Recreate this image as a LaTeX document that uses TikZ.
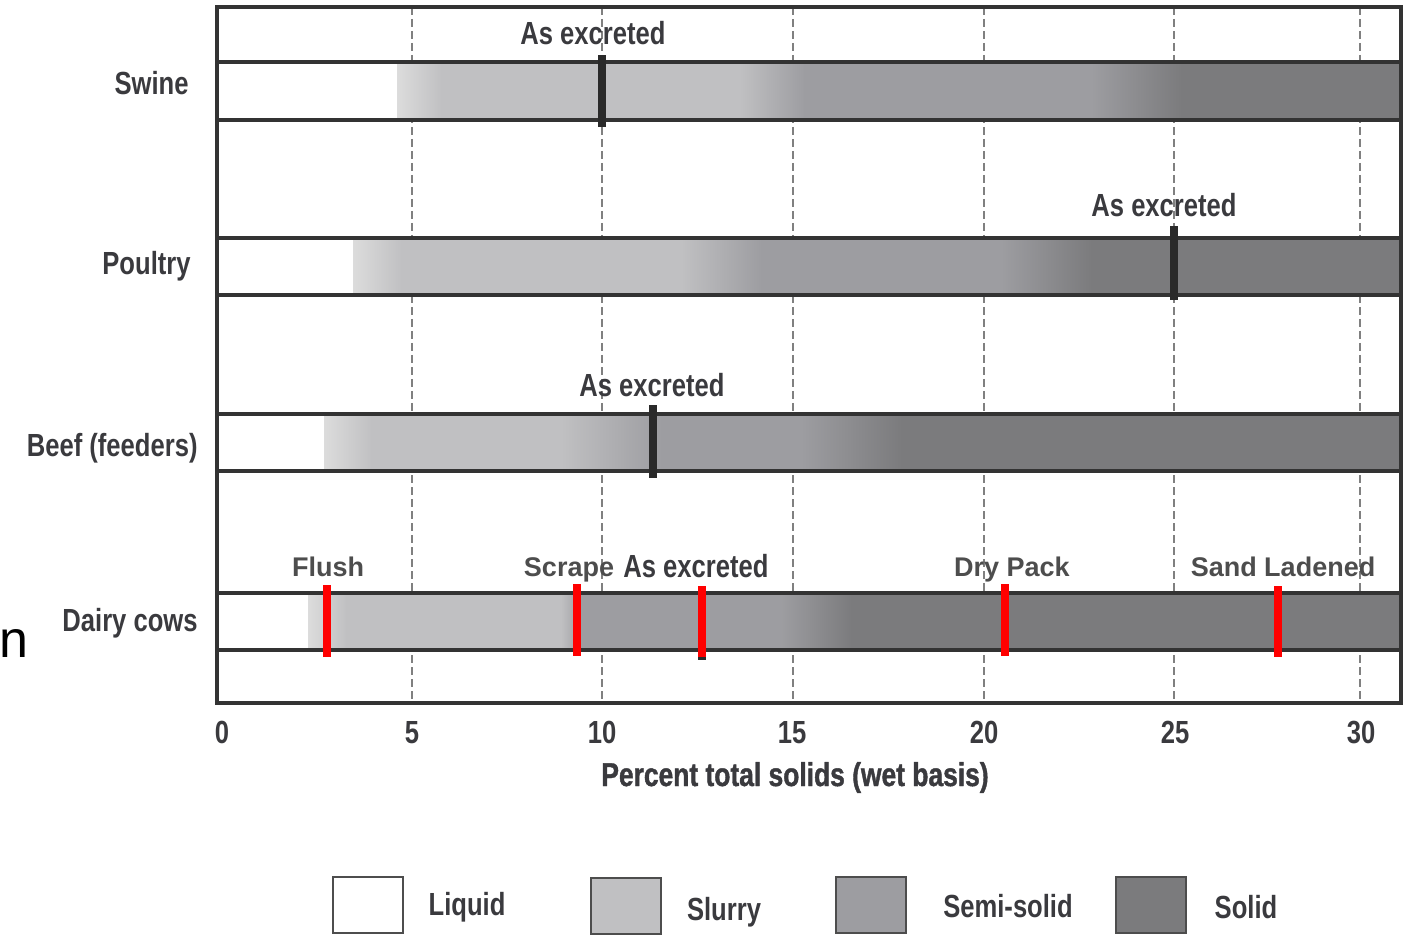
\documentclass[tikz,border=0pt]{standalone}
\usepackage{fontspec}
\setmainfont{Liberation Sans}
\newfontfamily\condf[FakeStretch=0.8]{Liberation Sans}
\newfontfamily\condb[FakeStretch=0.8,FakeBold=1.2]{Liberation Sans Bold}
\definecolor{frameC}{HTML}{333333}
\definecolor{gridC}{HTML}{808080}
\definecolor{txtC}{HTML}{3A3A3E}
\definecolor{lblC}{HTML}{4D4D4D}
\definecolor{lightC}{HTML}{DCDCDC}
\definecolor{slurryC}{HTML}{C0C0C2}
\definecolor{semiC}{HTML}{9D9DA1}
\definecolor{solidC}{HTML}{7B7B7D}
\definecolor{markC}{HTML}{2A2A2A}
\definecolor{redC}{HTML}{FF0000}
\tikzset{
  rowlab/.style={font=\condf\bfseries\fontsize{16}{16}\selectfont, text=txtC, inner sep=0pt, anchor=base east},
  exlab/.style={font=\condf\bfseries\fontsize{16}{16}\selectfont, text=txtC, inner sep=0pt, anchor=base},
  mlab/.style={font=\bfseries\fontsize{13.5}{14}\selectfont, text=lblC, inner sep=0pt, anchor=base},
  ticklab/.style={font=\condf\bfseries\fontsize{16}{16}\selectfont, text=txtC, inner sep=0pt, anchor=base},
  titlelab/.style={font=\condb\fontsize{16.5}{17}\selectfont, text=txtC, inner sep=0pt, anchor=base},
  leglab/.style={font=\condf\bfseries\fontsize{16}{16}\selectfont, text=txtC, inner sep=0pt, anchor=base},
  barline/.style={draw=frameC, line width=2pt},
  gridline/.style={draw=gridC, line width=0.9pt, dash pattern=on 4pt off 2pt},
  blackmark/.style={fill=markC},
  redmark/.style={fill=redC},
  legbox/.style={draw=lblC, line width=1pt, minimum width=35pt, minimum height=28pt, inner sep=0pt}
}
\begin{document}
\begin{tikzpicture}[x=0.5pt,y=-0.5pt]
\useasboundingbox (0,0) rectangle (1412,935);
% gridlines
\foreach \gx in {412,602,793,984,1174,1360}
  \draw[gridline] (\gx,7) -- (\gx,703);
% --- bar fills ---
% Swine
\fill[white] (219,62) rectangle (397,120);
\foreach \xa/\xb/\ca/\cb in {397/442/lightC/slurryC,441/741/slurryC/slurryC,740/805/slurryC/semiC,804/1092/semiC/semiC,1091/1182/semiC/solidC,1181/1400/solidC/solidC}
  \shade[left color=\ca,right color=\cb] (\xa,62) rectangle (\xb,120);
% Poultry
\fill[white] (219,238) rectangle (353,295);
\foreach \xa/\xb/\ca/\cb in {353/402/lightC/slurryC,401/682/slurryC/slurryC,681/762/slurryC/semiC,761/1002/semiC/semiC,1001/1092/semiC/solidC,1091/1400/solidC/solidC}
  \shade[left color=\ca,right color=\cb] (\xa,238) rectangle (\xb,295);
% Beef
\fill[white] (219,414) rectangle (324,471);
\foreach \xa/\xb/\ca/\cb in {324/372/lightC/slurryC,371/562/slurryC/slurryC,561/662/slurryC/semiC,661/802/semiC/semiC,801/902/semiC/solidC,901/1400/solidC/solidC}
  \shade[left color=\ca,right color=\cb] (\xa,414) rectangle (\xb,471);
% Dairy
\fill[white] (219,593) rectangle (308,650);
\foreach \xa/\xb/\ca/\cb in {308/347/lightC/slurryC,346/562/slurryC/slurryC,561/582/slurryC/semiC,581/782/semiC/semiC,781/852/semiC/solidC,851/1400/solidC/solidC}
  \shade[left color=\ca,right color=\cb] (\xa,593) rectangle (\xb,650);
% bar border lines
\foreach \by in {62,120,238,295,414,471,593,650}
  \draw[barline] (217,\by) -- (1401,\by);
% frame
\draw[frameC, line width=2pt] (217,7) rectangle (1401,703);
% markers
\fill[blackmark] (598,55) rectangle (606,127);
\fill[blackmark] (1170,226) rectangle (1178,300);
\fill[blackmark] (649,405) rectangle (657,478);
\fill[blackmark] (698,586) rectangle (706,660);
\fill[redmark] (323,585) rectangle (331,657);
\fill[redmark] (573,584) rectangle (581,656);
\fill[redmark] (698,586) rectangle (706,657);
\fill[redmark] (1001,584) rectangle (1009,656);
\fill[redmark] (1274,586) rectangle (1282,657);
% row labels
\node[rowlab] (swine) at (189,95) {Swine};
\node[rowlab] (poultry) at (191,275) {Poultry};
\node[rowlab] (beef) at (198,456) {Beef (feeders)};
\node[rowlab] (dairy) at (198,631) {Dairy cows};
% as excreted labels
\node[exlab] (exS) at (593,45) {As excreted};
\node[exlab] (exP) at (1164,217) {As excreted};
\node[exlab] (exB) at (652,396) {As excreted};
\node[exlab] (exD) at (696,577) {As excreted};
% dairy management labels
\node[mlab] (flush) at (328,576) {Flush};
\node[mlab] (scrape) at (569,576) {Scrape};
\node[mlab] (dry) at (1012,576) {Dry Pack};
\node[mlab] (sand) at (1283,576) {Sand Ladened};
% ticks
\node[ticklab] (t0) at (222,743) {0};
\node[ticklab] (t5) at (412,743) {5};
\node[ticklab] (t10) at (602,743) {10};
\node[ticklab] (t15) at (792,743) {15};
\node[ticklab] (t20) at (984,743) {20};
\node[ticklab] (t25) at (1175,743) {25};
\node[ticklab] (t30) at (1361,743) {30};
\node[titlelab] (xtitle) at (795,786) {Percent total solids (wet basis)};
% stray letter
\node[font=\fontsize{26}{26}\selectfont, inner sep=0pt, text=black, anchor=base west] (nletter) at (-1,657) {n};
% legend
\node[legbox, fill=white] (lq) at (368,905) {};
\node[legbox, fill=slurryC] (ls) at (625.5,905.5) {};
\node[legbox, fill=semiC] (lm) at (870.5,905) {};
\node[legbox, fill=solidC] (ld) at (1151,905) {};
\node[leglab] (lqt) at (467,915) {Liquid};
\node[leglab] (lst) at (724,920) {Slurry};
\node[leglab] (lmt) at (1008,917) {Semi-solid};
\node[leglab] (ldt) at (1246,918) {Solid};
\end{tikzpicture}
\end{document}
